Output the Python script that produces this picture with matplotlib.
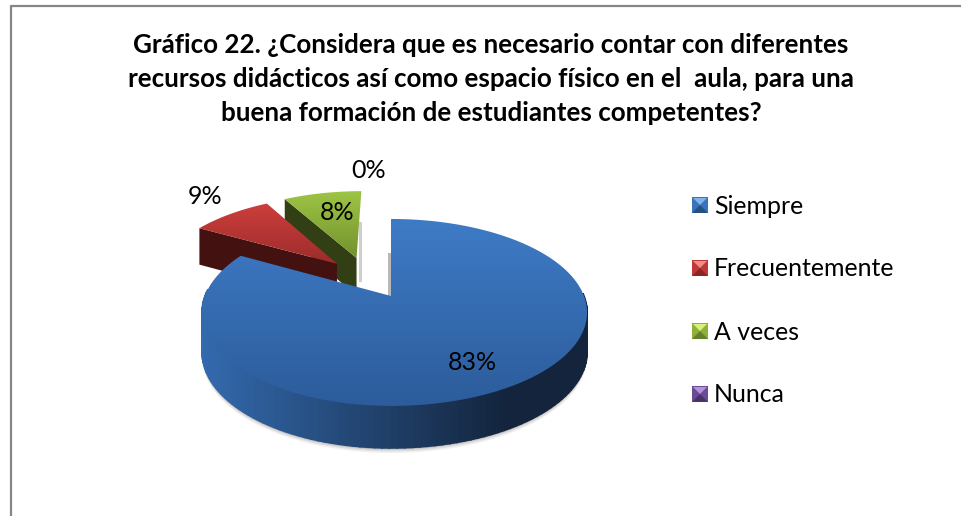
import numpy as np
import matplotlib
matplotlib.use("Agg")
import matplotlib.pyplot as plt
from matplotlib.patches import Polygon, Rectangle

title_lines = [
    "Gráfico 22. ¿Considera que es necesario contar con diferentes",
    "recursos didácticos así como espacio físico en el  aula, para una",
    "buena formación de estudiantes competentes?",
]
categories = ["Siempre", "Frecuentemente", "A veces", "Nunca"]
values = [83, 8.6, 8.4, 0]
pct_labels = ["83%", "9%", "8%", "0%"]

top_colors = [("#3E7BC6", "#2C5C9B"), ("#CC3F3C", "#9C2C2B"), ("#9DC544", "#73912E"), ("#7D5BA6", "#5A3F7E")]
wall_colors = [("#336AAE", "#13243C"), ("#5A1615", "#431110"), ("#3F4E18", "#323E13"), ("#4A3466", "#3A2850")]
legend_colors = [("#3A73B8", "#255082", "#7DB4F0"), ("#BE3A38", "#8C2624", "#F08C88"),
                 ("#8FB03C", "#64802A", "#D6F07C"), ("#6B4C94", "#4A336C", "#B490E0")]
# offset of each slice in pie coordinates (exploded look)
offsets = [(0.0, 0.0), (-0.31, 0.38), (-0.20, 0.453), (0.0, 0.453)]

CX, CY = 391, 312.5
KP = 0.176  # perspective


def project(u, v):
    # unit circle -> picture pixels, with perspective
    w = 1 + KP * v
    a = np.where(u < 0, 186.0, 193.0)
    x = CX + a * u / w
    y = CY - (93.5 * v + 16.5) / w
    return x, y


def depth(v):
    return 42 - 3 * (v + 1)


def gradient_poly(ax, xy, c1, c2, zorder):
    # vertical gradient clipped to a polygon
    poly = Polygon(xy, closed=True, fc="none", ec="none", zorder=zorder)
    ax.add_patch(poly)
    y0, y1 = xy[:, 1].min(), xy[:, 1].max()
    x0, x1 = xy[:, 0].min(), xy[:, 0].max()
    cmap = matplotlib.colors.LinearSegmentedColormap.from_list("g", [c1, c2])
    im = ax.imshow(np.linspace(0, 1, 128).reshape(-1, 1), cmap=cmap, aspect="auto",
                   extent=(x0, x1, y1, y0), zorder=zorder, interpolation="bilinear")
    im.set_clip_path(poly)
    ax.set_xlim(0, 961)
    ax.set_ylim(516, 0)


def draw_slice(ax, i, a0, a1, zorder):
    # a0 -> a1 clockwise, angles in degrees
    t = np.radians(np.linspace(a0, a1, 160))
    ox, oy = offsets[i]
    u, v = np.cos(t) + ox, np.sin(t) + oy
    x, y = project(u, v)
    ax_, ay_ = project(np.array([ox]), np.array([oy]))
    d = depth(v)
    d_apex = depth(oy)
    c1 = np.array(matplotlib.colors.to_rgb(wall_colors[i][0]))
    c2 = np.array(matplotlib.colors.to_rgb(wall_colors[i][1]))

    # straight wall on the side that faces the viewer
    wall = np.array([[ax_[0], ay_[0]], [x[0], y[0]], [x[0], y[0] + d[0]], [ax_[0], ay_[0] + d_apex]])
    ax.add_patch(Polygon(wall, closed=True, fc=wall_colors[i][1], ec="none", zorder=zorder))

    # curved wall, cut into strips (only the front of the big slice shows it)
    if i == 0:
        span = max(x.max() - x.min(), 1)
        for k in range(len(t) - 1):
            if np.sin(t[k]) > 0.05:
                continue
            s = (x[k] - x.min()) / span
            col = c1 + (c2 - c1) * min(s * 1.25, 1)
            strip = np.array([[x[k], y[k]], [x[k + 1], y[k + 1]],
                              [x[k + 1], y[k + 1] + d[k + 1]], [x[k], y[k] + d[k]]])
            ax.add_patch(Polygon(strip, closed=True, fc=col, ec=col, lw=1.2, zorder=zorder + 0.1))
    # top face
    xy = np.column_stack([np.r_[ax_, x], np.r_[ay_, y]])
    gradient_poly(ax, xy, top_colors[i][0], top_colors[i][1], zorder + 0.2)


def main():
    fig = plt.figure(figsize=(9.61, 5.16), dpi=100)
    ax = fig.add_axes([0, 0, 1, 1])
    ax.set_xlim(0, 961)
    ax.set_ylim(516, 0)
    ax.axis("off")

    # chart border
    ax.plot([11, 11, 961], [516, 5.5, 5.5], color="#868686", lw=1.6, zorder=1)

    for line, y in zip(title_lines, [53, 87, 121]):
        ax.text(491, y, line, family="Lato", weight="bold", fontsize=18.7, color="black",
                ha="center", va="baseline", zorder=10)

    # slice angles, clockwise from 12 o'clock
    total = sum(values)
    ends = 90 - 360 * np.cumsum(values) / total
    starts = np.r_[90, ends[:-1]]

    # soft shadow under the blue slice
    t = np.radians(np.linspace(0, -180, 120))
    sx, sy = project(np.cos(t), np.sin(t))
    for grow, alpha in zip([5, 3.5, 2, 1], [0.06, 0.08, 0.1, 0.14]):
        pts = np.column_stack([sx, sy + depth(np.sin(t)) + grow])
        ax.add_patch(Polygon(np.r_[pts, [[sx[-1], sy[-1]], [sx[0], sy[0]]]], closed=True,
                             fc="black", ec="none", alpha=alpha, zorder=1.5))
    ax.add_patch(Rectangle((387.5, 253), 3.5, 43, fc="#9A9A9A", ec="none", alpha=0.7, zorder=1.6))
    ax.add_patch(Rectangle((359, 222), 2.5, 60, fc="#BBBBBB", ec="none", alpha=0.7, zorder=1.6))

    # back to front: green, red, blue
    draw_slice(ax, 2, starts[2], ends[2], 2)
    draw_slice(ax, 1, starts[1], ends[1], 3)
    draw_slice(ax, 0, starts[0], ends[0], 4)

    label_pos = [(472, 363), (205, 196), (337, 213), (369, 170)]
    for txt, (x, y) in zip(pct_labels, label_pos):
        ax.text(x, y, txt, family="Lato", fontsize=18, color="black", ha="center", va="center", zorder=10)

    # legend
    for i, (name, y) in enumerate(zip(categories, [205, 268, 331, 394])):
        base, dark, light = legend_colors[i]
        ax.add_patch(Rectangle((692, y - 8), 16, 16, fc=base, ec="none", zorder=5))
        ax.add_patch(Polygon([[692, y + 8], [708, y + 8], [700, y]], closed=True, fc=dark, ec="none", zorder=6))
        ax.add_patch(Polygon([[693, y - 7], [707, y - 7], [700, y]], closed=True, fc=light, ec="none", zorder=6))
        ax.text(714, y + 1, name, family="Lato", fontsize=17.9, color="black", ha="left", va="center", zorder=10)

    fig.savefig("out.png", dpi=100, facecolor="white")


if __name__ == '__main__':
    main()
